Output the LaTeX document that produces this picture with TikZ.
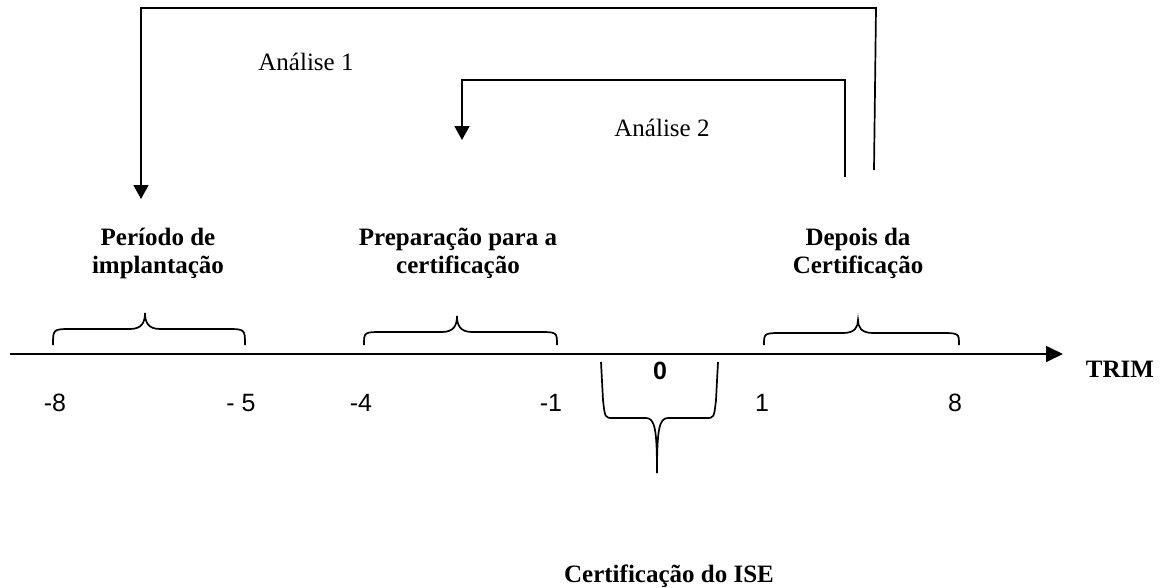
\documentclass[tikz,border=0pt]{standalone}
\usepackage{fontspec}
\setmainfont{Liberation Serif}
\newfontfamily\numfont{Liberation Sans}
\usetikzlibrary{arrows.meta}
\begin{document}
\begin{tikzpicture}[x=1pt,y=-1pt,
  ln/.style={line width=1.7pt},
  arr/.style={ln,-{Triangle[length=14pt,width=15pt]}},
  lbl/.style={font=\fontsize{25}{28}\selectfont\bfseries,align=center,inner sep=0pt},
  an/.style={font=\fontsize{25}{28}\selectfont,inner sep=0pt},
  num/.style={font=\fontsize{25}{28}\selectfont\numfont,inner sep=0pt},
  brc/.style={ln}]
\useasboundingbox (0,0) rectangle (1168,587);
% coordinates
\coordinate (a1s) at (874,170);
\coordinate (a1r) at (876,8);
\coordinate (a1l) at (141,8);
\coordinate (a1e) at (141,199);
\coordinate (a2s) at (845,177);
\coordinate (a2r) at (845,80);
\coordinate (a2l) at (462,80);
\coordinate (a2e) at (462,140);
\coordinate (axs) at (10,354);
\coordinate (axe) at (1063,354);
% connectors
\draw[arr] (a1s) -- (a1r) -- (a1l) -- (a1e);
\draw[arr] (a2s) -- (a2r) -- (a2l) -- (a2e);
\draw[ln,-{Triangle[length=17pt,width=16pt]}] (axs) -- (axe);
% texts
\node[an] (t1) at (306,62) {Análise 1};
\node[an] (t2) at (662,128) {Análise 2};
\node[lbl] (p1) at (158,253) {Período de\\implantação};
\node[lbl] (p2) at (458,253) {Preparação para a\\certificação};
\node[lbl] (p3) at (858,253) {Depois da\\Certificação};
\node[lbl,anchor=base] (trim) at (1120,377) {TRIM};
\node[lbl,anchor=base] (cert) at (669,582) {Certificação do ISE};
\node[num,anchor=base] (n1) at (55,411) {-8};
\node[num,anchor=base] (n2) at (241,411) {- 5};
\node[num,anchor=base] (n3) at (361,411) {-4};
\node[num,anchor=base] (n4) at (551,411) {-1};
\node[num,anchor=base] (n5) at (762,411) {1};
\node[num,anchor=base] (n6) at (955,411) {8};
\node[num,anchor=base,font=\fontsize{25}{28}\selectfont\numfont\bfseries] (n0) at (660,379) {0};
% braces above axis
\draw[brc] (53,345) .. controls (53,329) .. (72,329) -- (130,329) .. controls (142,329) and (145,322) .. (145,313)
  .. controls (145,322) and (148,329) .. (160,329) -- (226,329) .. controls (245,329) .. (245,345);
\draw[brc] (364,345) .. controls (364,332) .. (383,332) -- (442,332) .. controls (454,332) and (457,325) .. (457,316)
  .. controls (457,325) and (460,332) .. (472,332) -- (538,332) .. controls (557,332) .. (557,345);
\draw[brc] (764,345) .. controls (764,333) .. (783,333) -- (843,333) .. controls (855,333) and (858,327) .. (858,320)
  .. controls (858,327) and (861,333) .. (873,333) -- (940,333) .. controls (959,333) .. (959,345);
% brace below axis
\draw[brc] (601,362) -- (603,400) .. controls (605,418) .. (613,418) -- (646,418) .. controls (655,418) and (657,430) .. (657,473);
\draw[brc] (657,473) .. controls (657,430) and (659,418) .. (668,418) -- (706,418) .. controls (714,418) .. (716,400) -- (718,362);
\end{tikzpicture}
\end{document}
